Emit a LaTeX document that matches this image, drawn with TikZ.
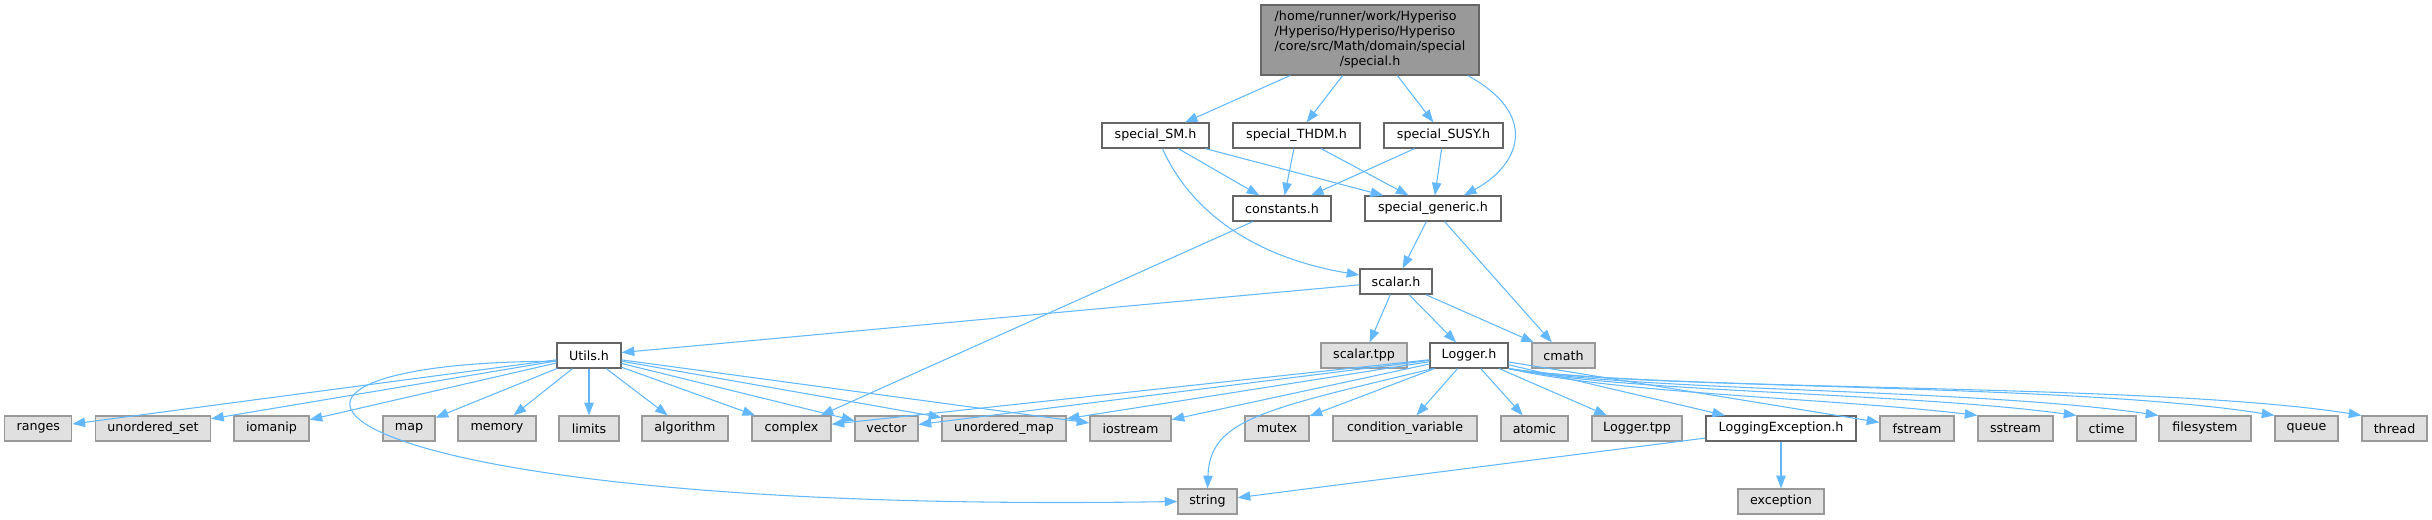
\documentclass[tikz,border=0pt]{standalone}
\usepackage{fontspec}
\setmainfont{DejaVu Sans}
\usetikzlibrary{arrows.meta}

\definecolor{edgeblue}{HTML}{63B8FF}
\definecolor{hdrline}{HTML}{666666}
\definecolor{sysline}{HTML}{999999}
\definecolor{sysfill}{HTML}{E0E0E0}
\definecolor{rootfill}{HTML}{999999}

\tikzset{
  hdr/.style={draw=hdrline, fill=white, line width=0.9pt, minimum height=18.75pt,
    inner sep=1pt, font=\fontsize{9.5}{11.25}\selectfont},
  sys/.style={hdr, draw=sysline, fill=sysfill},
  bw/.style={minimum width=#1*0.75pt},
  dep/.style={draw=edgeblue, line width=0.8pt, -{Triangle[length=9.5pt,width=7pt]}},
}

\begin{document}
\begin{tikzpicture}[x=0.75pt,y=0.75pt,yscale=-1,xscale=1]
\useasboundingbox (0,0) rectangle (2432,520);

% Root Node
\node[hdr, fill=rootfill, bw=218, minimum height=52.5pt] (root) at (1370,40)
  {\begin{tabular}{@{}l@{}}/home/runner/work/Hyperiso\\/Hyperiso/Hyperiso/Hyperiso\\/core/src/Math/domain/special\\\multicolumn{1}{@{}c@{}}{/special.h}\end{tabular}};

% Text Node
\node[hdr, bw=107] (sm) at (1155.5,135.5) {special\_SM.h};
\node[hdr, bw=127] (thdm) at (1296.5,135.5) {special\_THDM.h};
\node[hdr, bw=119] (susy) at (1443.5,135.5) {special\_SUSY.h};
\node[hdr, bw=98] (const) at (1282,208.5) {constants.h};
\node[hdr, bw=136] (generic) at (1433,208.5) {special\_generic.h};
\node[hdr, bw=72] (scalar) at (1396,281.5) {scalar.h};
\node[hdr, bw=64] (utils) at (589,355.5) {Utils.h};
\node[sys, bw=86] (scalartpp) at (1364,355.5) {scalar.tpp};
\node[hdr, bw=78] (logger) at (1469,355.5) {Logger.h};
\node[sys, bw=63] (cmath) at (1563.5,355.5) {cmath};

% Text Node (bottom row)
\node[sys, bw=67] (ranges) at (38.3,428.5) {ranges};
\node[sys, bw=115] (uset) at (153,428.5) {unordered\_set};
\node[sys, bw=75] (iomanip) at (271.5,428.5) {iomanip};
\node[sys, bw=52] (map) at (409,428.5) {map};
\node[sys, bw=78] (memory) at (497,428.5) {memory};
\node[sys, bw=60] (limits) at (589,428.5) {limits};
\node[sys, bw=86] (algorithm) at (685,428.5) {algorithm};
\node[sys, bw=79] (complex) at (791.5,428.5) {complex};
\node[sys, bw=63] (vector) at (886.5,428.5) {vector};
\node[sys, bw=124] (umap) at (1004,428.5) {unordered\_map};
\node[sys, bw=81] (iostream) at (1130.5,428.5) {iostream};
\node[sys, bw=64] (mutex) at (1277,428.5) {mutex};
\node[sys, bw=144] (condvar) at (1405,428.5) {condition\_variable};
\node[sys, bw=67] (atomic) at (1534.5,428.5) {atomic};
\node[sys, bw=90] (loggertpp) at (1637,428.5) {Logger.tpp};
\node[hdr, bw=150] (logexc) at (1781,428.5) {LoggingException.h};
\node[sys, bw=74] (fstream) at (1917,428.5) {fstream};
\node[sys, bw=75] (sstream) at (2015.5,428.5) {sstream};
\node[sys, bw=59] (ctime) at (2106.5,428.5) {ctime};
\node[sys, bw=92] (filesystem) at (2205,428.5) {filesystem};
\node[sys, bw=63] (queue) at (2306.5,428.5) {queue};
\node[sys, bw=65] (thread) at (2394.5,428.5) {thread};
\node[sys, bw=59] (string) at (1207.5,501.5) {string};
\node[sys, bw=86] (exception) at (1781,501.5) {exception};

%Straight Lines
\draw[dep] (root) -- (sm);
\draw[dep] (root) -- (thdm);
\draw[dep] (root) -- (susy);
\draw[dep] (root.-20) .. controls (1540,115) and (1520,165) .. (generic.23);
\draw[dep] (sm) -- (const);
\draw[dep] (sm) -- (generic);
\draw[dep] (sm.-62) .. controls (1185,200) and (1240,255) .. (scalar.170);
\draw[dep] (thdm) -- (const);
\draw[dep] (thdm) -- (generic);
\draw[dep] (susy) -- (const);
\draw[dep] (susy) -- (generic);
\draw[dep] (const) -- (complex);
\draw[dep] (generic) -- (scalar);
\draw[dep] (generic) -- (cmath);
\draw[dep] (scalar) -- (utils);
\draw[dep] (scalar) -- (scalartpp);
\draw[dep] (scalar) -- (logger);
\draw[dep] (scalar) -- (cmath);

% Utils.h includes
\foreach \t in {ranges,uset,iomanip,map,memory,limits,algorithm,complex,vector,umap,iostream}
  \draw[dep] (utils) -- (\t);
\draw[dep] (utils.190) .. controls (170,362) and (300,515) .. (string.west);

% Logger.h includes
\foreach \t in {complex,vector,umap,iostream,mutex,condvar,atomic,loggertpp,logexc,fstream}
  \draw[dep] (logger) -- (\t);
\draw[dep] (logger.-160) .. controls (1260,410) and (1210,420) .. (string.north);
\draw[dep] (logger.south east) .. controls (1620,394) and (1830,398) .. (sstream.north west);
\draw[dep] (logger.south east) .. controls (1630,393) and (1900,392) .. (ctime.north west);
\draw[dep] (logger.south east) .. controls (1640,392) and (1970,388) .. (filesystem.north west);
\draw[dep] (logger.south east) .. controls (1650,390) and (2070,383) .. (queue.north west);
\draw[dep] (logger.south east) .. controls (1650,392) and (2150,382) .. (thread.north west);

% LoggingException.h includes
\draw[dep] (logexc) -- (string);
\draw[dep] (logexc) -- (exception);

\end{tikzpicture}
\end{document}
